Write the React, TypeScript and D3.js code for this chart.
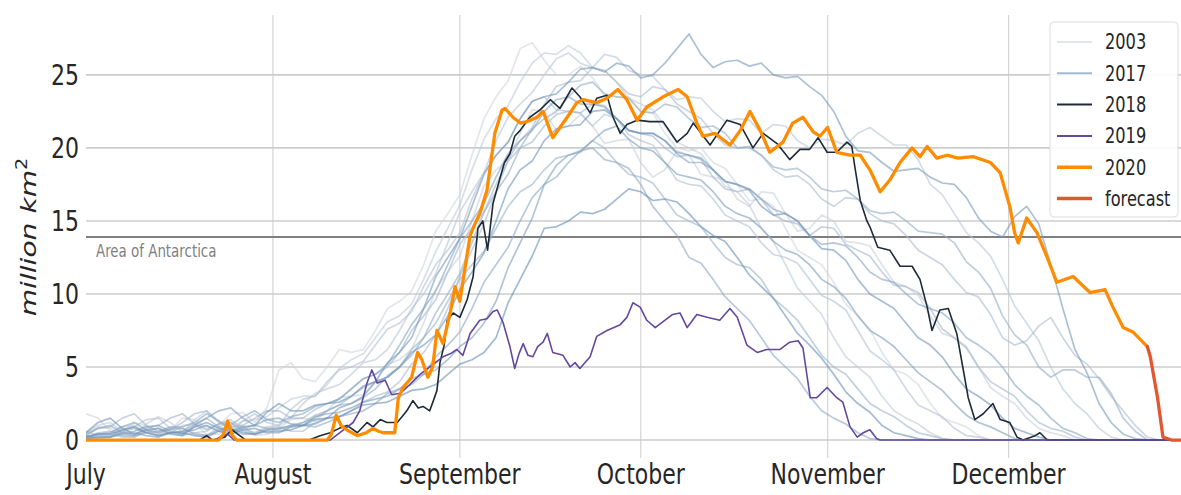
import React from "react";
import * as d3 from "d3";

const WIDTH = 1181;
const HEIGHT = 495;
const STRETCH = 1.28;
const FONT = "'DejaVu Sans', 'Liberation Sans', sans-serif";

// ---------- axis labels ----------
const monthLabels = ["July", "August", "September", "October", "November", "December"];
const monthStartDay = [0, 31, 62, 92, 123, 153];
const yTickValues = [0, 5, 10, 15, 20, 25];
const antarcticaArea = 13.9;
const antarcticaLabel = "Area of Antarctica";

// ---------- background years: values every 4 days from 1 July, plus the in-between day (+2) ----------
const bgDays = [0, 4, 8, 12, 16, 20, 24, 28, 32, 36, 40, 44, 48, 52, 56, 60, 64, 68, 72, 76, 80, 84, 88, 92, 96, 100, 104, 108, 112, 116, 120, 124, 128, 132, 136, 140, 144, 148, 152, 156, 160, 164, 168, 172, 176, 180, 184];

const bg2003 = [1.8,0.6,1.2,0.4,1.5,0.8,1.8,1.2, 4.8,4.2,5.0,6.0,7.5,9.5,12.0,15.5,19.5,23.5,26.8,26.0,25.0,24.8,23.5,22.5,21.0,19.8,19.0,17.5,16.5,14.5,12.5,10.8,8.5,6.0,4.5,2.5,1.2,0.3, 0,0,0,0,0,0,0,0,0];
const bg2003mid = [1.5,0.5,1.0,0.7,1.4,1.0,1.9,2.2,5.3,4.0,6.2,6.2,9.0,10.2,14.3,16.8,22.0,24.6,27.2,25.0,25.6,23.6,23.5,22.4,20.0,20.0,18.6,16.4,16.0,13.0,12.0,9.3,7.6,4.8,3.8,1.5,0.9,0, 0,0,0,0,0,0,0,0];
const bg2004 = [0.3,0.8,0.2,0.5,1.0,0.4,0.9,0.3, 0.8,1.5,2.0,3.0,4.0,5.5,8.0,11.5,15.0,18.5,21.0,22.5,21.5,21.5,20.5,19.0,18.5,19.5,18.0,16.5,17.0,15.5,14.5,15.0,13.5,12.0,10.5,8.5,7.0,5.0,3.0,1.5,0.5, 0,0,0,0,0,0];
const bg2004mid = [0.9,0.3,0.6,0.5,1.1,0.4,1.0,0.4,1.4,1.3,2.9,3.1,5.2,6.2,10.3,12.6,17.4,19.2,22.6,21.2,22.3,20.3,20.6,18.0,19.8,18.2,17.8,16.0,16.9,14.3,15.4,13.6,13.3,10.8,9.9,7.3,6.4,3.6,2.5,0.8,0.3, 0,0,0,0,0];
const bg2005 = [0.5,1.2,0.3,1.6,0.5,2.0,0.8,1.4, 2.2,3.0,3.8,5.5,7.0,8.5,11.0,14.5,18.5,22.0,24.5,26.5,27.0,25.5,24.5,23.0,21.5,20.0,18.5,17.0,14.5,12.0,9.5,7.0,5.0,3.0,1.5,0.5, 0,0,0,0,0,0,0,0,0,0,0];
const bg2005mid = [1.0,0.6,1.1,1.2,1.4,1.2,1.3,1.6,2.8,3.0,4.9,5.9,8.1,9.3,12.9,16.1,20.6,22.9,25.8,26.4,26.5,25.3,23.4,22.6,20.4,19.6,17.4,16.1,13.6,10.4,8.6,5.7,4.3,2.0,1.1,0.1, 0,0,0,0,0,0,0,0,0,0];
const bg2006 = [0.2,0.5,1.0,0.4,0.8,0.3,1.2,0.5, 1.0,2.5,3.5,4.5,5.5,7.5,10.0,13.5,17.0,20.5,23.0,25.0,26.5,25.5,26.2,25.0,24.0,23.5,22.5,22.0,21.0,21.5,20.0,20.5,21.0,20.8,20.2,17.5,15.5,13.5,11.0,8.0,5.0,2.5,0.8, 0,0,0,0];
const bg2006mid = [0.4,0.9,0.6,0.7,0.5,0.9,0.7,0.9,1.5,3.2,3.8,5.3,6.2,9.0,11.4,15.6,18.3,22.1,23.8,26.1,25.8,26.4,25.3,24.9,23.3,23.4,21.8,21.9,21.6,20.5,20.6,20.2,21.4,20.2,19.2,16.8,14.2,12.6,9.2,6.8,3.5,1.8,0.2, 0,0,0];
const bg2007 = [0.6,0.2,0.9,1.5,0.4,1.0,0.5,1.8, 1.0,2.8,4.0,5.0,6.5,8.0,10.5,13.0,16.5,19.5,22.0,23.5,22.5,21.5,22.0,20.5,19.0,17.5,16.5,15.0,13.5,12.5,11.0,9.5,7.5,5.5,3.5,2.0,0.8,0.2, 0,0,0,0,0,0,0,0,0];
const bg2007mid = [0.3,0.7,1.4,0.8,0.9,0.6,1.3,1.2,2.1,3.0,4.8,5.4,7.6,8.8,12.0,14.2,18.3,20.4,23.2,22.6,22.4,22.3,20.9,20.2,17.8,17.4,15.4,14.6,12.7,12.1,9.9,8.9,6.1,4.8,2.4,1.6,0.3,0, 0,0,0,0,0,0,0,0];
const bg2008 = [0.1,0.4,0.2,0.8,0.3,0.6,1.4,0.5, 0.9,0.6,1.5,2.0,3.0,4.0,6.0,9.0,13.0,17.0,20.5,23.0,24.5,25.5,24.5,23.5,24.0,22.5,21.0,20.0,19.5,18.0,17.5,16.0,16.5,15.0,14.0,12.5,11.0,9.8,7.0,6.8,8.4,5.8,4.2,2.0,0.2, 0,0];
const bg2008mid = [0.3,0.2,0.6,0.5,0.5,1.1,0.8,0.8,0.6,1.2,1.6,2.6,3.3,5.2,7.2,11.2,14.8,19.2,21.4,24.2,24.6,25.3,23.7,24.2,23.0,22.0,20.2,20.0,18.5,18.1,16.5,16.6,15.5,14.8,13.0,12.0,10.1,8.6,6.5,7.8,7.0,5.2,3.0,1.0,0,0];
const bg2009 = [0.3,0.9,1.8,0.6,1.2,2.0,0.9,1.5, 2.0,1.5,2.5,3.5,4.5,6.0,8.5,11.5,14.5,17.5,20.0,21.5,22.5,23.0,22.0,21.0,20.0,19.5,18.0,17.0,16.5,15.0,14.0,14.5,13.0,11.5,10.5,9.0,7.0,5.0,3.5,2.0,0.8,0.2, 0,0,0,0,0];
const bg2009mid = [0.8,1.5,1.0,0.7,1.8,1.3,1.0,2.0,1.5,2.1,2.8,4.2,5.0,7.5,9.6,13.4,15.6,19.1,20.4,22.3,22.4,22.9,21.2,20.8,19.4,19.2,17.2,17.2,15.4,14.8,14.6,13.4,12.6,10.6,10.1,7.6,6.3,4.0,3.0,1.2,0.6,0, 0,0,0,0];
const bg2010 = [0.2,0.6,0.3,1.0,1.8,0.7,1.2,0.4, 0.8,1.2,2.0,3.0,4.0,5.0,7.0,9.5,12.0,14.5,17.0,18.5,19.5,20.5,19.0,18.0,16.5,15.0,13.5,12.0,11.0,9.0,7.0,5.0,3.5,2.0,1.0,0.3, 0,0,0,0,0,0,0,0,0,0,0];
const bg2010mid = [0.5,0.3,0.8,1.5,1.1,1.1,0.6,0.7,0.9,1.7,2.4,3.6,4.3,6.2,8.0,11.0,12.9,16.0,17.5,19.3,19.7,20.0,18.2,17.6,15.4,14.6,12.5,11.8,9.7,8.2,5.8,4.5,2.5,1.6,0.5,0.1, 0,0,0,0,0,0,0,0,0,0];
const bg2011 = [0.1,0.3,0.8,0.3,0.6,1.5,0.5,1.0, 0.7,1.2,2.0,2.5,3.5,5.0,7.0,10.0,13.5,17.0,20.0,22.0,23.5,24.5,23.5,22.5,23.0,22.0,21.5,20.0,19.5,18.5,18.0,17.0,16.5,15.5,15.0,14.2,13.5,11.5,8.5,6.5,4.3,4.8,4.3,1.5, 0,0,0];
const bg2011mid = [0.2,0.6,0.5,0.5,1.1,0.9,0.8,0.8,1.0,1.5,2.4,2.9,4.4,5.8,8.7,11.4,15.6,18.2,21.3,22.5,24.3,23.7,23.4,22.4,22.8,21.4,21.0,20.1,18.7,18.6,17.2,17.1,15.7,15.6,14.3,14.1,12.2,10.4,7.2,5.0,4.8,4.3,3.2,0.6,0,0];
const bg2012 = [0.4,1.0,0.3,0.6,0.9,1.8,0.7,0.4, 0.8,1.0,1.2,1.8,2.5,3.5,4.5,6.5,9.0,12.0,15.0,17.5,19.0,20.0,19.0,17.5,15.0,12.5,11.0,9.0,7.0,5.0,3.0,1.5,0.5, 0,0,0,0,0,0,0,0,0,0,0,0,0,0];
const bg2012mid = [0.8,0.5,0.5,0.9,1.2,1.3,0.4,0.7,1.0,0.9,1.6,2.0,3.2,3.8,5.7,7.4,10.8,13.2,16.6,18.0,19.8,19.2,18.6,16.0,14.0,12.1,9.8,8.2,5.8,4.2,2.0,1.1,0.1, 0,0,0,0,0,0,0,0,0,0,0,0,0];
const bg2013 = [0.2,0.5,1.2,0.5,0.8,0.3,1.0,2.0, 1.2,1.8,2.5,3.5,4.5,6.5,9.0,12.0,15.0,18.0,20.5,22.5,23.5,23.0,22.0,21.0,20.5,19.0,18.5,17.5,16.5,15.5,14.0,13.5,12.5,11.0,10.0,9.0,8.0,6.5,5.0,3.0,1.5,0.5, 0,0,0,0,0];
const bg2013mid = [0.4,0.9,0.7,0.8,0.4,0.7,1.6,1.4,1.6,2.3,2.8,4.2,5.2,7.9,10.2,13.8,16.2,19.6,21.2,23.3,23.0,22.8,21.2,21.0,19.6,19.0,17.7,17.2,15.8,15.0,13.4,13.3,11.5,10.8,9.3,8.7,7.0,5.9,3.8,2.4,0.8,0.1, 0,0,0,0];
const bg2014 = [0.3,0.2,0.6,1.0,0.4,1.5,2.2,1.0, 1.5,1.0,1.8,2.2,2.8,3.5,4.5,5.5,7.0,9.5,13.5,17.5,19.5,20.5,21.5,20.0,19.0,18.0,17.0,15.5,14.5,13.0,12.0,10.5,8.5,7.0,5.5,4.0,2.5,1.2,0.5, 0,0,0,0,0,0,0,0];
const bg2014mid = [0.1,0.5,0.9,0.6,1.0,2.0,1.5,1.4,1.1,1.6,1.9,2.6,3.0,4.2,4.8,6.4,8.0,11.8,15.2,18.8,19.8,21.2,20.6,19.8,18.2,17.8,16.0,15.2,13.6,12.7,11.0,9.7,7.5,6.4,4.6,3.4,1.7,0.9,0.1, 0,0,0,0,0,0,0];
const bg2015 = [0.1,0.2,0.5,0.2,0.6,1.0,0.4,0.8, 0.5,1.0,1.5,2.5,4.0,6.0,9.0,12.5,16.0,19.5,22.0,23.5,24.5,25.5,25.8,24.8,25.8,27.8,25.5,26.0,25.8,24.8,24.2,22.5,19.8,19.0,18.5,18.0,17.5,15.2,13.9,16.0,12.0,6.2,2.5,0.4, 0,0,0];
const bg2015mid = [0.2,0.4,0.3,0.5,0.7,0.6,0.7,0.5,0.9,1.1,2.2,3.0,5.3,7.0,11.2,13.8,18.2,20.4,23.2,23.7,25.4,25.2,25.6,25.0,26.8,26.4,25.9,25.6,25.0,24.9,23.6,20.8,19.7,18.4,18.6,17.6,16.6,14.3,15.3,14.8,9.0,4.6,1.2,0.1,0,0];
const bg2016 = [0.5,1.5,0.4,0.8,0.3,1.2,0.6,1.0, 2.5,2.0,2.5,3.0,4.0,5.0,6.5,8.5,11.5,15.0,18.5,20.5,21.5,22.5,22.0,21.0,20.5,19.5,18.5,17.5,16.0,15.5,14.0,13.0,11.0,9.5,8.0,6.5,4.5,3.0,1.5,0.5, 0,0,0,0,0,0,0];
const bg2016mid = [1.2,0.8,0.7,0.4,0.9,0.8,0.9,1.9,2.0,2.4,2.6,3.7,4.3,6.0,7.2,10.3,12.8,17.2,19.1,21.3,21.6,22.6,21.2,21.0,19.7,19.3,17.7,17.1,15.4,15.0,13.1,12.3,10.0,9.0,7.0,5.7,3.5,2.4,0.8,0.2, 0,0,0,0,0,0];
const bg2017 = [0.2,0.4,0.9,0.3,0.5,0.2,0.8,0.4, 0.6,1.0,1.5,2.0,2.5,3.0,3.5,4.5,5.5,7.0,11.0,14.5,15.0,15.5,16.5,17.0,16.5,15.5,14.0,12.5,10.5,8.5,6.5,4.5,2.5,1.0,0.3, 0,0,0,0,0,0,0,0,0,0,0,0];
const bg2017mid = [0.4,0.7,0.5,0.5,0.3,0.6,0.5,0.6,0.7,1.4,1.6,2.4,2.6,3.4,3.8,5.2,6.0,9.4,12.6,14.6,15.6,15.8,17.2,16.4,16.3,14.6,13.6,11.3,9.7,7.3,5.6,3.3,1.9,0.5,0.1, 0,0,0,0,0,0,0,0,0,0,0];

const backgroundYears = [2003, 2004, 2005, 2006, 2007, 2008, 2009, 2010, 2011, 2012, 2013, 2014, 2015, 2016, 2017];
const backgroundValues = [bg2003, bg2004, bg2005, bg2006, bg2007, bg2008, bg2009, bg2010, bg2011, bg2012, bg2013, bg2014, bg2015, bg2016, bg2017];
const backgroundMidValues = [bg2003mid, bg2004mid, bg2005mid, bg2006mid, bg2007mid, bg2008mid, bg2009mid, bg2010mid, bg2011mid, bg2012mid, bg2013mid, bg2014mid, bg2015mid, bg2016mid, bg2017mid];

// ---------- highlighted years: [day since 1 July, million km²] ----------
const s2018: [number, number][] = [
  [0,0],[18.9,0],[20,0.3],[21,0],[23,0.2],[24.2,0.7],[25.5,0.3],[26.5,0],[37,0],[38.8,0.3],[40.5,0.5],[42,0.8],[43.3,1.0],[45,0.5],[46.6,1.2],[47.6,0.9],[48.8,1.4],[49.9,1.2],[51.6,1.2],[52.4,1.6],[53.2,2.0],[54.2,2.7],[55.1,2.2],[55.9,2.3],[57,2.0],[57.7,2.8],[58.2,3.4],[58.7,5.3],[59.4,6.5],[59.9,8.2],[60.9,8.7],[62,8.4],[63.2,9.6],[64.2,11.2],[65,14.5],[65.8,15.0],[66.6,13.0],[67.5,16.2],[68.7,18.0],[69.4,19.0],[70.3,19.6],[71.1,20.8],[72,21.2],[73.6,22.1],[75.3,22.6],[77,23.3],[78.6,22.7],[80.6,24.1],[81.9,23.5],[83.6,22.4],[84.7,23.4],[86.4,23.6],[87.4,22.1],[88.6,21.0],[89.7,21.6],[91.4,21.9],[93.5,21.8],[95.7,21.8],[98,20.4],[99.7,21.0],[100.7,21.7],[103.5,20.2],[106.3,21.9],[108.5,21.6],[110.6,20.0],[112.3,21.0],[114.6,20.3],[116.7,19.2],[118.4,19.9],[120,19.9],[121.4,20.7],[122.9,19.7],[124.5,19.7],[126.2,20.4],[127,20.1],[127.5,18.7],[128.4,16.4],[129.5,15.0],[130,14.6],[131.3,13.2],[133.3,13.0],[135,11.9],[137,11.9],[138.3,11.0],[139.5,9.1],[140.3,7.5],[141.6,8.9],[143,9.0],[144.4,7.3],[145.4,5.0],[146.3,2.9],[147.4,1.4],[148.8,1.8],[150.4,2.5],[151.6,1.4],[153.2,1.2],[154.4,0.2],[155.4,0],[157.4,0.3],[158.2,0.5],[159.4,0],[184,0]
];
const s2019: [number, number][] = [
  [0,0],[21.4,0],[22.6,0.3],[23.5,0.4],[24.6,0],[40.5,0],[42.1,0.5],[44.3,1.2],[45.4,2.0],[46.6,3.9],[47.4,4.8],[48.3,3.9],[49.6,4.1],[50.7,3.1],[52.1,3.2],[53.2,3.6],[55.4,4.5],[57,5.0],[59.2,5.7],[60.4,5.9],[61.5,6.2],[62.5,5.8],[63.7,7.3],[65.3,8.2],[66.5,8.3],[67.5,8.8],[68.2,8.9],[69.2,8.0],[70.3,6.4],[71.1,4.9],[71.8,5.9],[72.5,6.6],[73.3,5.8],[74.1,5.7],[74.9,6.4],[75.8,6.7],[76.5,7.3],[77.4,6.0],[79.1,5.8],[80.3,5.0],[81.1,5.3],[81.9,4.9],[83.6,5.7],[84.7,7.1],[86.4,7.5],[88.6,7.9],[89.7,8.4],[90.7,9.4],[91.9,9.1],[93,8.2],[94.4,7.7],[95.7,8.1],[97.3,8.6],[98.5,8.7],[99.7,7.7],[101.3,8.6],[103,8.4],[105.1,8.2],[106.8,9.0],[108,8.4],[109.6,6.5],[111.3,6.0],[112.9,6.2],[115.1,6.2],[116.7,6.7],[118.1,6.8],[118.9,6.3],[120.1,2.9],[121.2,2.9],[122.9,3.6],[124.5,2.9],[125.5,2.6],[126.7,0.9],[127.9,0.2],[128.9,0.5],[130,0.7],[131.1,0.1],[131.7,0],[184,0]
];
const s2020: [number, number][] = [
  [0,0],[22,0],[22.8,0.4],[23.5,1.3],[24.3,0.3],[25,0],[40,0],[40.7,0.4],[41.5,1.7],[42.3,1.0],[43.2,0.7],[45,0.3],[46.5,0.5],[47.6,0.8],[48.5,0.6],[49.3,0.5],[51.2,0.5],[51.8,2.9],[52.6,3.6],[54,4.3],[55,6.0],[55.7,5.5],[56.7,4.3],[57.5,5.0],[58.2,7.5],[59.2,6.6],[60.4,8.7],[61.2,10.5],[62,9.5],[62.9,11.9],[63.7,14.0],[64.5,14.8],[65.3,15.5],[66.5,17.1],[67.8,21.0],[69,22.6],[69.5,22.7],[70.8,22.1],[72,21.7],[73.1,21.8],[74.8,22.1],[75.8,22.5],[77.4,20.7],[79.8,22.1],[81.4,23.1],[82.4,23.3],[84.7,23.1],[86.4,23.4],[88.2,24.0],[89.7,23.3],[91.4,21.9],[93,22.8],[95.7,23.5],[98.2,24.0],[99.7,23.5],[101.3,21.7],[102.3,20.8],[104.3,21.0],[106.8,20.2],[108.5,21.2],[110.1,22.5],[111.8,21.2],[113.4,19.7],[115.6,20.4],[117.2,21.7],[118.9,22.1],[120.6,21.1],[121.7,20.8],[123,21.4],[124.5,19.7],[126.7,19.5],[128.4,19.5],[130,18.5],[131.7,17.0],[133.3,17.8],[135,19.0],[137,20.0],[138.3,19.4],[139.5,20.1],[141.1,19.3],[142.8,19.5],[144.6,19.3],[147.1,19.4],[150,19.0],[151.6,18.3],[153.2,16.0],[154,14.2],[154.6,13.5],[156,15.2],[157.7,14.2],[159.4,12.5],[161,10.8],[163.7,11.2],[166.5,10.1],[169,10.3],[170.3,9.1],[172,7.7],[173.6,7.4],[176,6.4]
];
const sForecast: [number, number][] = [[176,6.4],[176.5,5.7],[177.7,2.9],[178.6,0.2],[180,0],[184,0]];

const COLOR_2018 = "#1d2a3a";
const COLOR_2019 = "#6348a0";
const COLOR_2020 = "#ff8c00";
const COLOR_FORECAST = "#e4572e";

function SText(props: { x: number; y: number; anchor?: string; size: number; fill: string; dy?: string; children: React.ReactNode }) {
  const { x, y, anchor = "start", size, fill, dy = "0", children } = props;
  return (
    <g transform={`translate(${x},${y}) scale(1,${STRETCH})`}>
      <text textAnchor={anchor} fontSize={size} fill={fill} fontFamily={FONT} dy={dy}>
        {children}
      </text>
    </g>
  );
}

export default function App() {
  const x = d3.scaleLinear().domain([0, 183]).range([86, 1189.5]);
  const y = d3.scaleLinear().domain([-1.23, 29.1]).range([458, 15]);
  const line = d3.line<[number, number]>().x((d) => x(d[0])).y((d) => y(d[1]));
  const bgColor = d3.scaleLinear<string>().domain([2003, 2017]).range(["#d0d6dd", "#6a91b7"]).interpolate(d3.interpolateRgb);
  const BG_OPACITY = 0.62;

  const legendItems = [
    { label: "2003", color: bgColor(2003), width: 2, opacity: BG_OPACITY },
    { label: "2017", color: bgColor(2017), width: 2, opacity: BG_OPACITY },
    { label: "2018", color: COLOR_2018, width: 2, opacity: 1 },
    { label: "2019", color: COLOR_2019, width: 2, opacity: 1 },
    { label: "2020", color: COLOR_2020, width: 3.5, opacity: 1 },
    { label: "forecast", color: COLOR_FORECAST, width: 3.5, opacity: 1 },
  ];

  const [x0, x1] = x.range();
  const plotRight = WIDTH;

  return (
    <svg width={WIDTH} height={HEIGHT} style={{ position: "absolute", left: 0, top: 0, background: "#fff" }}>
      <defs>
        <clipPath id="plot">
          <rect x={x0} y={15} width={x1 - x0} height={443} />
        </clipPath>
      </defs>
      {/* vertical grid */}
      {monthStartDay.slice(1).map((d) => (
        <line key={d} x1={x(d)} x2={x(d)} y1={15} y2={458} stroke="#d4d4d4" strokeWidth={1.2} />
      ))}
      {/* horizontal grid */}
      {yTickValues.map((v) => (
        <line key={v} x1={x0} x2={plotRight} y1={y(v)} y2={y(v)} stroke="#cccccc" strokeWidth={1.6} />
      ))}
      {/* Antarctica line */}
      <line x1={x0} x2={plotRight} y1={y(antarcticaArea)} y2={y(antarcticaArea)} stroke="#7f7f7f" strokeWidth={2} />
      <SText x={96} y={y(antarcticaArea) + 19.5} size={13.4} fill="#7f7f7f">{antarcticaLabel}</SText>

      <g clipPath="url(#plot)" fill="none" strokeLinejoin="round" strokeLinecap="round">
        {backgroundYears.map((yr, k) => {
          const vals = backgroundValues[k];
          const mids = backgroundMidValues[k];
          const pts: [number, number][] = [];
          vals.forEach((v, i) => {
            pts.push([bgDays[i], v]);
            if (i < mids.length && i < vals.length - 1) pts.push([bgDays[i] + 2, mids[i]]);
          });
          return <path key={yr} d={line(pts) || ""} stroke={bgColor(yr)} strokeOpacity={BG_OPACITY} strokeWidth={1.7} />;
        })}
        <path d={line(s2018) || ""} stroke={COLOR_2018} strokeWidth={1.6} />
        <path d={line(s2019) || ""} stroke={COLOR_2019} strokeWidth={1.6} />
        <path d={line(s2020) || ""} stroke={COLOR_2020} strokeWidth={3.3} />
        <path d={line(sForecast) || ""} stroke={COLOR_FORECAST} strokeWidth={3.3} />
      </g>

      {/* y tick labels */}
      {yTickValues.map((v) => (
        <SText key={v} x={79} y={y(v)} anchor="end" size={22} fill="#262626" dy="0.36em">{String(v)}</SText>
      ))}
      {/* x tick labels */}
      {monthLabels.map((m, i) => (
        <SText key={m} x={x(monthStartDay[i])} y={484} anchor="middle" size={22} fill="#262626">{m}</SText>
      ))}
      {/* y axis label */}
      <g transform={`translate(36,237) scale(1,${STRETCH}) rotate(-90)`}>
        <text textAnchor="middle" fontSize={22} fill="#262626" fontFamily={FONT} fontStyle="italic">
          million km<tspan fontSize={15} dy={-9} fontStyle="normal">2</tspan>
        </text>
      </g>

      {/* legend */}
      <rect x={1050} y={22} width={128} height={195} rx={4} fill="#ffffff" fillOpacity={0.9} stroke="#dddddd" strokeWidth={1} />
      {legendItems.map((it, i) => {
        const cy = 42 + i * 31.3;
        return (
          <g key={it.label}>
            <line x1={1057} x2={1092} y1={cy} y2={cy} stroke={it.color} strokeOpacity={it.opacity} strokeWidth={it.width} />
            <SText x={1105} y={cy} size={16.2} fill="#262626" dy="0.36em">{it.label}</SText>
          </g>
        );
      })}
    </svg>
  );
}
